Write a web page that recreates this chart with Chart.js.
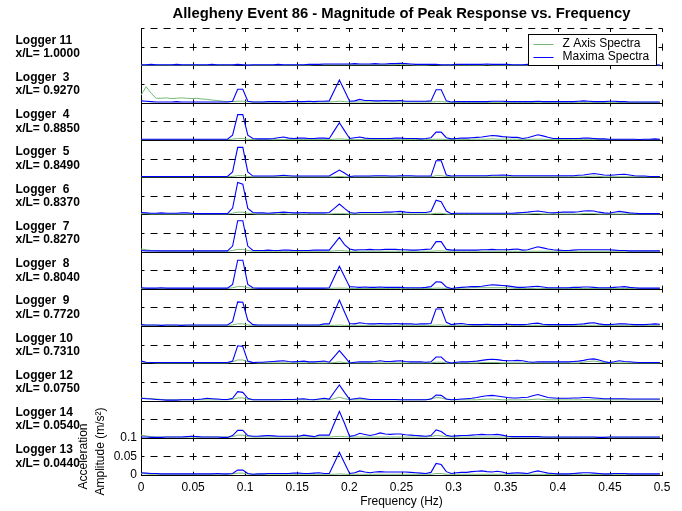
<!DOCTYPE html>
<html>
<head>
<meta charset="utf-8">
<title>Allegheny Event 86 - Magnitude of Peak Response vs. Frequency</title>
<script src="https://cdn.jsdelivr.net/npm/chart.js@4.4.0/dist/chart.umd.min.js"></script>
<style>
  html, body { margin: 0; padding: 0; background: #fff; }
  #wrap { width: 682px; height: 511px; }
</style>
</head>
<body>
<div id="wrap"><canvas id="chart" width="682" height="511"></canvas></div>
<script>
// Frequency bins of the spectra (Hz), resolution 1/204.8 Hz
const FREQ = [
  0, 0.0049, 0.0098, 0.0146, 0.0195, 0.0244, 0.0293, 0.0342, 0.0391, 0.0439,
  0.0488, 0.0537, 0.0586, 0.0635, 0.0684, 0.0732, 0.0781, 0.0830, 0.0879, 0.0928,
  0.0977, 0.1025, 0.1074, 0.1123, 0.1172, 0.1221, 0.1270, 0.1318, 0.1367, 0.1416,
  0.1465, 0.1514, 0.1563, 0.1611, 0.1660, 0.1709, 0.1758, 0.1807, 0.1855, 0.1904,
  0.1953, 0.2002, 0.2051, 0.2100, 0.2148, 0.2197, 0.2246, 0.2295, 0.2344, 0.2393,
  0.2441, 0.2490, 0.2539, 0.2588, 0.2637, 0.2686, 0.2734, 0.2783, 0.2832, 0.2881,
  0.2930, 0.2979, 0.3027, 0.3076, 0.3125, 0.3174, 0.3223, 0.3271, 0.3320, 0.3369,
  0.3418, 0.3467, 0.3516, 0.3564, 0.3613, 0.3662, 0.3711, 0.3760, 0.3809, 0.3857,
  0.3906, 0.3955, 0.4004, 0.4053, 0.4102, 0.4150, 0.4199, 0.4248, 0.4297, 0.4346,
  0.4395, 0.4443, 0.4492, 0.4541, 0.4590, 0.4639, 0.4688, 0.4736, 0.4785, 0.4834,
  0.4883, 0.4932, 0.4980
];

// Logger names and their position along the span, top panel first
const LOGGER_NAMES = ['Logger 11', 'Logger  3', 'Logger  4', 'Logger  5', 'Logger  6', 'Logger  7',
                      'Logger  8', 'Logger  9', 'Logger 10', 'Logger 12', 'Logger 14', 'Logger 13'];
const LOGGER_POS = ['x/L= 1.0000', 'x/L= 0.9270', 'x/L= 0.8850', 'x/L= 0.8490', 'x/L= 0.8370', 'x/L= 0.8270',
                    'x/L= 0.8040', 'x/L= 0.7720', 'x/L= 0.7310', 'x/L= 0.0750', 'x/L= 0.0540', 'x/L= 0.0440'];

// Spectra amplitudes (m/s^2) per logger: Z axis and maxima
const Z_L11 = [
  .001,.001,.001,.001,.001,.001,.001,.001,.001,.001,
  .001,.001,.001,.001,.001,.001,.001,.001,.001,.002,
  .002,.001,.001,.001,.001,.001,.001,.001,.001,.001,
  .001,.001,.001,.001,.002,.002,.002,.002,.002,.002,
  .002,.002,.002,.002,.002,.002,.002,.002,.002,.002,
  .002,.003,.002,.002,.001,.001,.001,.002,.002,.001,
  .001,.001,.001,.001,.001,.001,.001,.001,.002,.001,
  .001,.001,.001,.001,.001,.001,.001,.001,.001,.001,
  .001,.001,.001,.001,.001,.001,.001,.001,.001,.001,
  .001,.001,.001,.001,.001,.001,.001,.001,.001,.001,
  .001,.001,.001
];
const MAX_L11 = [
  .002,.002,.003,.002,.002,.002,.002,.003,.002,.002,
  .002,.002,.002,.002,.003,.002,.002,.002,.002,.003,
  .002,.001,.002,.002,.002,.002,.002,.003,.002,.002,
  .002,.002,.002,.003,.003,.003,.004,.004,.004,.004,
  .004,.004,.005,.004,.004,.004,.005,.004,.004,.005,
  .005,.006,.005,.004,.003,.003,.003,.003,.003,.002,
  .002,.002,.003,.003,.003,.003,.003,.003,.004,.003,
  .003,.003,.003,.002,.002,.002,.003,.003,.002,.002,
  .002,.002,.002,.002,.002,.002,.002,.002,.002,.002,
  .002,.002,.002,.002,.002,.002,.002,.002,.002,.002,
  .002,.001,.001
];
const Z_L3 = [
  .020,.043,.025,.012,.012,.013,.011,.012,.013,.012,
  .011,.012,.010,.009,.007,.006,.004,.003,.003,.004,
  .004,.003,.002,.002,.002,.002,.002,.002,.002,.002,
  .002,.002,.002,.002,.002,.002,.002,.002,.003,.004,
  .003,.002,.002,.002,.002,.002,.002,.002,.002,.002,
  .002,.002,.002,.002,.002,.002,.002,.002,.003,.003,
  .002,.001,.001,.001,.001,.001,.001,.001,.001,.001,
  .001,.001,.001,.001,.001,.001,.001,.001,.001,.001,
  .001,.001,.001,.001,.001,.001,.001,.001,.001,.001,
  .001,.001,.001,.001,.001,.001,.001,.001,.001,.001,
  .001,.001,.001
];
const MAX_L3 = [
  .005,.004,.003,.002,.002,.002,.002,.003,.002,.002,
  .002,.002,.002,.002,.002,.002,.002,.002,.004,.036,
  .036,.004,.002,.002,.002,.003,.003,.003,.002,.003,
  .004,.003,.003,.004,.003,.004,.004,.005,.033,.061,
  .033,.004,.005,.009,.006,.006,.005,.005,.006,.005,
  .005,.006,.004,.004,.004,.004,.004,.005,.035,.035,
  .005,.002,.003,.003,.003,.003,.003,.003,.003,.004,
  .004,.004,.003,.003,.003,.003,.003,.003,.004,.003,
  .003,.003,.003,.003,.003,.003,.004,.005,.004,.003,
  .003,.003,.004,.004,.003,.003,.002,.002,.002,.002,
  .002,.002,.002
];
const Z_L4 = [
  .001,.001,.001,.001,.001,.001,.001,.001,.001,.001,
  .001,.001,.001,.001,.001,.001,.001,.001,.002,.004,
  .004,.002,.001,.001,.001,.001,.001,.001,.001,.001,
  .001,.001,.001,.001,.001,.001,.001,.001,.002,.003,
  .002,.001,.001,.001,.001,.001,.001,.001,.001,.001,
  .001,.001,.001,.001,.001,.001,.001,.001,.002,.002,
  .001,.001,.001,.001,.001,.002,.002,.002,.002,.003,
  .002,.002,.002,.002,.002,.001,.001,.002,.002,.002,
  .001,.001,.001,.001,.001,.001,.001,.001,.001,.001,
  .001,.001,.001,.001,.001,.001,.001,.001,.001,.001,
  .001,.001,.001
];
const MAX_L4 = [
  .002,.002,.002,.002,.002,.002,.002,.002,.002,.002,
  .002,.002,.002,.002,.002,.002,.002,.002,.013,.068,
  .068,.013,.004,.003,.003,.003,.004,.006,.008,.005,
  .004,.005,.005,.004,.004,.005,.005,.004,.025,.046,
  .025,.004,.006,.008,.005,.004,.004,.004,.004,.004,
  .005,.005,.004,.004,.004,.003,.004,.006,.021,.021,
  .006,.003,.004,.005,.005,.006,.007,.008,.010,.012,
  .011,.009,.008,.007,.007,.004,.006,.010,.014,.011,
  .007,.004,.004,.004,.004,.004,.004,.005,.005,.004,
  .003,.003,.002,.002,.002,.002,.002,.002,.001,.002,
  .002,.003,.002
];
const Z_L5 = [
  .001,.001,.001,.001,.001,.001,.001,.001,.001,.001,
  .001,.001,.001,.001,.001,.001,.001,.001,.002,.004,
  .004,.002,.001,.001,.001,.001,.001,.001,.001,.001,
  .001,.001,.001,.001,.001,.001,.001,.001,.001,.002,
  .001,.001,.001,.001,.001,.001,.001,.001,.001,.001,
  .001,.001,.001,.001,.001,.001,.001,.001,.004,.004,
  .002,.001,.001,.001,.001,.001,.001,.001,.001,.001,
  .001,.001,.001,.001,.001,.001,.001,.001,.001,.001,
  .001,.001,.001,.001,.001,.001,.001,.001,.002,.003,
  .002,.001,.001,.001,.001,.001,.001,.001,.001,.001,
  .001,.001,.001
];
const MAX_L5 = [
  .002,.002,.002,.002,.002,.002,.002,.002,.002,.002,
  .002,.002,.002,.002,.002,.002,.002,.002,.014,.080,
  .080,.014,.003,.003,.003,.003,.003,.004,.005,.004,
  .003,.003,.003,.003,.003,.003,.003,.003,.011,.019,
  .011,.002,.003,.003,.003,.003,.004,.004,.004,.003,
  .003,.004,.004,.004,.003,.003,.003,.003,.044,.044,
  .006,.003,.004,.004,.004,.004,.004,.004,.004,.005,
  .005,.006,.005,.004,.004,.004,.004,.004,.004,.004,
  .004,.004,.004,.004,.004,.004,.005,.006,.008,.010,
  .008,.006,.005,.006,.007,.008,.006,.004,.003,.003,
  .002,.002,.002
];
const Z_L6 = [
  .002,.002,.001,.001,.001,.001,.001,.001,.001,.001,
  .001,.001,.001,.001,.001,.001,.001,.001,.003,.006,
  .006,.003,.002,.001,.001,.001,.001,.001,.002,.001,
  .001,.001,.001,.001,.001,.001,.001,.001,.002,.002,
  .002,.001,.001,.001,.001,.001,.001,.001,.001,.001,
  .001,.002,.001,.001,.001,.001,.001,.001,.003,.003,
  .001,.001,.001,.001,.001,.001,.001,.001,.001,.001,
  .001,.001,.001,.001,.001,.001,.001,.002,.002,.001,
  .001,.001,.001,.001,.001,.001,.001,.002,.002,.002,
  .001,.001,.001,.001,.001,.001,.001,.001,.001,.001,
  .001,.001,.001
];
const MAX_L6 = [
  .005,.004,.003,.003,.004,.003,.003,.003,.004,.004,
  .003,.002,.002,.002,.002,.002,.002,.002,.017,.086,
  .081,.016,.005,.004,.004,.003,.004,.005,.006,.005,
  .004,.004,.005,.004,.004,.004,.004,.005,.016,.028,
  .016,.005,.003,.005,.005,.005,.005,.005,.006,.006,
  .007,.008,.006,.005,.005,.005,.005,.008,.038,.034,
  .009,.002,.003,.003,.003,.003,.003,.003,.003,.003,
  .003,.003,.003,.003,.004,.005,.006,.008,.009,.007,
  .005,.004,.005,.006,.006,.006,.007,.009,.010,.009,
  .006,.004,.003,.006,.008,.006,.004,.003,.002,.002,
  .002,.002,.002
];
const Z_L7 = [
  .007,.005,.003,.002,.001,.001,.001,.001,.001,.001,
  .001,.001,.001,.001,.001,.001,.001,.001,.003,.006,
  .006,.003,.001,.001,.001,.001,.001,.001,.001,.001,
  .001,.001,.001,.001,.001,.001,.001,.001,.002,.003,
  .002,.001,.001,.001,.001,.001,.001,.001,.001,.001,
  .001,.001,.001,.001,.001,.001,.001,.001,.002,.002,
  .001,.001,.001,.001,.001,.001,.001,.001,.001,.001,
  .001,.001,.001,.001,.001,.001,.001,.001,.001,.001,
  .001,.001,.001,.001,.001,.001,.001,.001,.001,.001,
  .001,.001,.001,.001,.001,.001,.001,.001,.001,.001,
  .001,.001,.001
];
const MAX_L7 = [
  .003,.002,.002,.002,.002,.002,.002,.002,.002,.002,
  .002,.002,.002,.002,.002,.002,.002,.002,.015,.083,
  .083,.015,.003,.003,.003,.004,.003,.003,.004,.004,
  .003,.003,.003,.003,.004,.004,.004,.004,.021,.038,
  .019,.007,.004,.005,.005,.006,.005,.005,.006,.006,
  .006,.005,.005,.004,.004,.005,.006,.007,.027,.027,
  .006,.004,.004,.004,.004,.004,.004,.005,.005,.006,
  .005,.005,.005,.006,.007,.004,.005,.009,.013,.010,
  .007,.005,.004,.003,.003,.004,.005,.005,.005,.005,
  .005,.005,.005,.004,.003,.003,.002,.002,.002,.002,
  .002,.002,.002
];
const Z_L8 = [
  .001,.001,.001,.001,.001,.001,.001,.001,.001,.001,
  .001,.001,.001,.001,.001,.001,.001,.001,.003,.006,
  .006,.003,.001,.001,.001,.001,.001,.001,.001,.001,
  .001,.001,.001,.001,.001,.001,.001,.001,.002,.002,
  .002,.001,.001,.001,.001,.001,.001,.001,.001,.001,
  .001,.001,.001,.001,.001,.001,.001,.001,.002,.002,
  .001,.001,.001,.002,.002,.003,.003,.003,.003,.003,
  .003,.003,.003,.002,.001,.001,.001,.001,.002,.001,
  .001,.001,.001,.001,.001,.001,.001,.001,.001,.001,
  .001,.001,.001,.001,.001,.001,.001,.001,.001,.001,
  .001,.001,.001
];
const MAX_L8 = [
  .003,.002,.002,.002,.003,.002,.002,.002,.002,.002,
  .002,.002,.002,.002,.002,.002,.002,.002,.012,.077,
  .077,.012,.003,.002,.002,.002,.002,.002,.002,.002,
  .002,.002,.002,.002,.002,.002,.002,.003,.032,.061,
  .033,.006,.005,.004,.005,.004,.004,.005,.004,.004,
  .004,.004,.003,.003,.003,.003,.004,.006,.019,.018,
  .005,.001,.003,.004,.005,.006,.006,.007,.009,.011,
  .010,.009,.008,.006,.004,.004,.005,.006,.007,.005,
  .003,.003,.003,.003,.003,.004,.004,.005,.005,.004,
  .003,.003,.003,.004,.005,.006,.004,.003,.002,.002,
  .002,.002,.002
];
const Z_L9 = [
  .002,.002,.002,.002,.002,.002,.002,.002,.002,.002,
  .002,.002,.002,.002,.002,.002,.002,.002,.003,.006,
  .006,.003,.002,.002,.002,.002,.002,.002,.002,.002,
  .002,.002,.002,.002,.002,.002,.002,.002,.002,.003,
  .002,.002,.002,.002,.002,.002,.002,.002,.002,.002,
  .002,.002,.002,.002,.002,.002,.002,.002,.003,.003,
  .002,.002,.002,.002,.002,.002,.002,.002,.002,.002,
  .002,.002,.002,.002,.002,.002,.002,.002,.002,.002,
  .002,.002,.002,.002,.002,.002,.002,.002,.002,.002,
  .002,.002,.002,.002,.002,.002,.002,.002,.002,.002,
  .002,.002,.002
];
const MAX_L9 = [
  .004,.003,.003,.003,.002,.003,.003,.003,.002,.003,
  .003,.003,.003,.003,.003,.003,.003,.003,.012,.065,
  .064,.015,.004,.003,.003,.003,.003,.003,.003,.003,
  .003,.003,.003,.003,.003,.003,.006,.006,.038,.070,
  .038,.007,.006,.009,.007,.006,.006,.007,.006,.006,
  .007,.006,.006,.006,.005,.006,.006,.007,.046,.046,
  .010,.004,.006,.007,.005,.004,.004,.004,.005,.004,
  .004,.004,.005,.004,.004,.004,.005,.007,.008,.005,
  .004,.004,.004,.004,.004,.004,.005,.006,.008,.009,
  .006,.004,.004,.005,.006,.006,.005,.004,.004,.004,
  .005,.006,.005
];
const Z_L10 = [
  .004,.002,.002,.001,.001,.001,.001,.001,.001,.001,
  .001,.001,.001,.001,.001,.001,.001,.001,.004,.009,
  .009,.004,.002,.001,.001,.001,.001,.001,.001,.001,
  .001,.001,.001,.001,.001,.001,.001,.001,.002,.004,
  .002,.001,.001,.001,.001,.001,.001,.001,.001,.001,
  .001,.001,.001,.001,.001,.001,.001,.001,.003,.003,
  .001,.001,.001,.001,.001,.001,.001,.002,.002,.002,
  .002,.001,.001,.001,.001,.001,.001,.001,.001,.001,
  .001,.001,.001,.001,.001,.001,.001,.003,.005,.006,
  .004,.002,.001,.001,.001,.001,.001,.001,.001,.001,
  .001,.001,.001
];
const MAX_L10 = [
  .006,.003,.002,.002,.002,.002,.002,.002,.002,.002,
  .002,.002,.002,.002,.002,.002,.002,.002,.006,.047,
  .045,.006,.002,.003,.003,.004,.005,.006,.007,.005,
  .004,.005,.006,.004,.004,.005,.006,.003,.018,.034,
  .018,.001,.003,.004,.004,.004,.005,.007,.005,.005,
  .006,.007,.005,.004,.004,.004,.003,.004,.017,.017,
  .004,.001,.003,.004,.004,.005,.006,.008,.010,.011,
  .010,.008,.007,.007,.008,.007,.004,.003,.004,.004,
  .004,.004,.004,.004,.004,.005,.006,.008,.011,.012,
  .009,.005,.002,.004,.007,.005,.004,.003,.002,.002,
  .002,.002,.002
];
const Z_L12 = [
  .007,.006,.005,.004,.003,.002,.002,.002,.002,.002,
  .002,.002,.002,.002,.002,.002,.002,.002,.003,.007,
  .007,.003,.002,.002,.002,.002,.002,.002,.002,.002,
  .002,.002,.002,.002,.002,.002,.002,.002,.005,.009,
  .005,.002,.002,.002,.002,.002,.002,.002,.002,.002,
  .002,.002,.002,.002,.002,.002,.002,.004,.008,.007,
  .003,.002,.002,.002,.002,.002,.002,.003,.004,.004,
  .003,.002,.002,.002,.002,.002,.002,.003,.004,.003,
  .002,.002,.002,.002,.002,.002,.002,.002,.002,.002,
  .002,.002,.002,.002,.002,.002,.002,.002,.002,.002,
  .002,.002,.002
];
const MAX_L12 = [
  .006,.005,.004,.003,.002,.001,.001,.001,.002,.002,
  .002,.003,.004,.006,.005,.004,.003,.003,.006,.024,
  .022,.006,.002,.002,.002,.002,.002,.002,.003,.003,
  .003,.004,.005,.003,.002,.004,.006,.004,.023,.042,
  .022,.003,.005,.007,.005,.003,.003,.003,.003,.003,
  .003,.002,.002,.002,.002,.002,.002,.004,.015,.014,
  .004,.002,.003,.004,.005,.006,.008,.011,.013,.014,
  .012,.010,.008,.007,.007,.008,.009,.013,.016,.012,
  .008,.007,.006,.006,.006,.007,.007,.008,.008,.007,
  .006,.005,.005,.005,.005,.005,.004,.004,.004,.004,
  .004,.004,.004
];
const Z_L14 = [
  .007,.005,.003,.002,.002,.002,.002,.002,.002,.002,
  .002,.002,.002,.002,.002,.002,.002,.002,.003,.007,
  .007,.003,.002,.002,.002,.002,.002,.002,.002,.002,
  .002,.002,.002,.002,.002,.002,.002,.002,.003,.004,
  .003,.002,.002,.002,.002,.002,.002,.002,.002,.002,
  .002,.002,.002,.002,.002,.002,.002,.003,.006,.005,
  .003,.002,.002,.002,.002,.002,.002,.002,.002,.002,
  .002,.002,.002,.002,.002,.002,.002,.002,.002,.002,
  .001,.001,.001,.001,.001,.001,.001,.001,.001,.001,
  .001,.001,.001,.001,.001,.001,.001,.001,.001,.001,
  .001,.001,.001
];
const MAX_L14 = [
  .002,.002,.001,.001,.001,.002,.002,.002,.002,.003,
  .004,.003,.002,.002,.002,.002,.001,.001,.006,.020,
  .020,.006,.004,.004,.005,.006,.005,.004,.004,.004,
  .004,.004,.007,.005,.003,.007,.007,.007,.039,.071,
  .039,.004,.006,.012,.009,.006,.009,.013,.010,.009,
  .010,.010,.008,.007,.006,.005,.004,.006,.021,.017,
  .007,.004,.005,.006,.006,.007,.008,.009,.008,.008,
  .009,.007,.004,.003,.003,.003,.003,.003,.003,.002,
  .002,.002,.002,.002,.002,.002,.002,.002,.002,.002,
  .001,.001,.002,.002,.002,.002,.002,.002,.002,.002,
  .002,.002,.002
];
const Z_L13 = [
  .004,.003,.002,.002,.002,.002,.002,.002,.002,.002,
  .002,.002,.002,.002,.002,.002,.002,.002,.003,.005,
  .005,.003,.002,.002,.002,.002,.002,.002,.002,.002,
  .002,.002,.002,.002,.002,.002,.002,.002,.002,.003,
  .002,.002,.002,.002,.002,.002,.002,.002,.002,.002,
  .002,.002,.002,.002,.002,.002,.002,.002,.004,.004,
  .002,.002,.002,.002,.002,.002,.002,.002,.002,.002,
  .002,.002,.002,.002,.002,.002,.002,.002,.002,.002,
  .001,.001,.001,.001,.001,.001,.001,.001,.001,.001,
  .001,.001,.001,.001,.001,.001,.001,.001,.001,.001,
  .001,.001,.001
];
const MAX_L13 = [
  .006,.005,.004,.004,.003,.003,.003,.003,.003,.003,
  .003,.003,.003,.003,.003,.004,.003,.003,.004,.013,
  .013,.004,.002,.003,.003,.004,.004,.004,.004,.004,
  .005,.005,.004,.004,.005,.006,.004,.004,.032,.061,
  .032,.004,.006,.011,.008,.006,.008,.009,.008,.008,
  .008,.008,.008,.007,.006,.005,.004,.007,.031,.028,
  .009,.004,.006,.007,.007,.009,.010,.011,.009,.008,
  .010,.008,.004,.005,.006,.005,.004,.008,.011,.008,
  .005,.004,.003,.003,.003,.004,.005,.006,.006,.005,
  .004,.003,.003,.004,.004,.004,.003,.003,.003,.003,
  .003,.003,.003
];

// Panels from top to bottom
const Z_SERIES = [Z_L11, Z_L3, Z_L4, Z_L5, Z_L6, Z_L7, Z_L8, Z_L9, Z_L10, Z_L12, Z_L14, Z_L13];
const MAX_SERIES = [MAX_L11, MAX_L3, MAX_L4, MAX_L5, MAX_L6, MAX_L7, MAX_L8, MAX_L9, MAX_L10, MAX_L12, MAX_L14, MAX_L13];

// Axis ticks
const X_TICKS = [0, 0.05, 0.1, 0.15, 0.2, 0.25, 0.3, 0.35, 0.4, 0.45, 0.5];
const X_TICK_LABELS = ['0', '0.05', '0.1', '0.15', '0.2', '0.25', '0.3', '0.35', '0.4', '0.45', '0.5'];
const Y_TICKS = [0, 0.05, 0.1];
const Y_TICK_LABELS = ['0', '0.05', '0.1'];

const PANEL_STEP = 0.1;      // vertical offset between stacked loggers
const HALF_STEP = 0.05;
const Y_MAX = 1.2;
const BLUE = '#0000ff';
const GREEN = '#74b874';
const FONT = "'Liberation Sans', Arial, Helvetica, sans-serif";

Chart.defaults.font.family = FONT;
Chart.defaults.font.size = 12;
Chart.defaults.color = '#000';

const nPanels = MAX_SERIES.length;
const offsetOf = i => (nPanels - 1 - i) * PANEL_STEP;
const toPoints = (vals, off) => FREQ.map((f, k) => ({ x: f, y: vals[k] + off }));

// Maxima traces first so that they are painted above the Z traces
const datasets = [];
MAX_SERIES.forEach((vals, i) => datasets.push({
  label: 'Maxima Spectra', data: toPoints(vals, offsetOf(i)),
  borderColor: BLUE, borderWidth: 1.1
}));
Z_SERIES.forEach((vals, i) => datasets.push({
  label: 'Z Axis Spectra', data: toPoints(vals, offsetOf(i)),
  borderColor: GREEN, borderWidth: 1
}));

// Dashed grid with a solid zero line for every stacked panel
const panelGrid = {
  id: 'panelGrid',
  beforeDatasetsDraw(chart) {
    const { ctx, chartArea: a, scales: { x, y } } = chart;
    const px = v => Math.round(x.getPixelForValue(v)) + 0.5;
    const py = v => Math.round(y.getPixelForValue(v)) + 0.5;
    const rowGap = Math.abs(y.getPixelForValue(0) - y.getPixelForValue(HALF_STEP));
    const colGap = Math.abs(x.getPixelForValue(X_TICKS[1]) - x.getPixelForValue(X_TICKS[0]));
    const dash = 7;
    ctx.save();
    ctx.strokeStyle = '#000';
    ctx.lineWidth = 1;

    // vertical grid, dashes centred on each horizontal line
    ctx.setLineDash([dash, rowGap - dash]);
    ctx.lineDashOffset = dash / 2;
    X_TICKS.forEach(v => {
      if (v === 0) return;
      const X = px(v);
      ctx.beginPath(); ctx.moveTo(X, py(Y_MAX)); ctx.lineTo(X, py(0)); ctx.stroke();
    });

    // horizontal dashed lines at the half-panel levels and the top edge
    ctx.setLineDash([dash, colGap / 4 - dash]);
    ctx.lineDashOffset = dash / 2;
    const dashedRows = [];
    for (let i = 0; i < nPanels; i++) dashedRows.push(i * PANEL_STEP + HALF_STEP);
    dashedRows.push(Y_MAX);
    dashedRows.forEach(v => {
      const Y = py(v);
      ctx.beginPath(); ctx.moveTo(a.left, Y); ctx.lineTo(px(0.5), Y); ctx.stroke();
    });

    // solid baselines of the stacked panels
    ctx.setLineDash([]);
    for (let i = 1; i < nPanels; i++) {
      const Y = py(i * PANEL_STEP);
      ctx.beginPath(); ctx.moveTo(a.left, Y); ctx.lineTo(px(0.5), Y); ctx.stroke();
    }
    ctx.restore();
  }
};

// Logger captions, y-axis caption and the boxed legend
const annotations = {
  id: 'annotations',
  afterDraw(chart) {
    const { ctx, chartArea: a, scales: { y } } = chart;
    ctx.save();
    ctx.fillStyle = '#000';

    // logger names beside each panel
    ctx.font = 'bold 12px ' + FONT;
    ctx.textAlign = 'left';
    ctx.textBaseline = 'middle';
    LOGGER_NAMES.forEach((name, i) => {
      const mid = y.getPixelForValue(offsetOf(i) + HALF_STEP);
      ctx.fillText(name, 15.5, mid - 6.5);
      ctx.fillText(LOGGER_POS[i], 15.5, mid + 7);
    });

    // y-axis caption, two rotated lines
    ctx.font = '12px ' + FONT;
    ctx.textAlign = 'center';
    [['Acceleration', a.left - 57, a.bottom - 18.5],
     ['Amplitude (m/s\u00B2)', a.left - 40, a.bottom - 23.5]].forEach(([t, cx, cy]) => {
      ctx.save();
      ctx.translate(cx, cy);
      ctx.rotate(-Math.PI / 2);
      ctx.fillText(t, 0, 0);
      ctx.restore();
    });

    // legend box
    const L = Math.round(a.right) - 134 + 0.5, R = Math.round(a.right) - 6 + 0.5;
    const T = Math.round(a.top) + 6 + 0.5, B = Math.round(a.top) + 37 + 0.5;
    ctx.fillStyle = '#fff';
    ctx.fillRect(L, T, R - L, B - T);
    ctx.strokeStyle = '#000';
    ctx.lineWidth = 1;
    ctx.strokeRect(L, T, R - L, B - T);
    const rows = [['Z Axis Spectra', GREEN, T + 9], ['Maxima Spectra', BLUE, T + 22.5]];
    rows.forEach(([t, c, yy]) => {
      ctx.strokeStyle = c;
      ctx.beginPath(); ctx.moveTo(L + 5, Math.round(yy) + 0.5); ctx.lineTo(L + 25, Math.round(yy) + 0.5); ctx.stroke();
      ctx.fillStyle = '#000';
      ctx.textAlign = 'left';
      ctx.textBaseline = 'middle';
      ctx.fillText(t, L + 34, yy);
    });
    ctx.restore();
  }
};

new Chart(document.getElementById('chart'), {
  type: 'line',
  data: { datasets },
  plugins: [panelGrid, annotations],
  options: {
    responsive: false,
    animation: false,
    devicePixelRatio: 1,
    events: [],
    layout: { padding: { left: 0, right: 20, top: 0, bottom: 0 } },
    elements: { point: { radius: 0 }, line: { tension: 0, fill: false } },
    scales: {
      x: {
        type: 'linear', min: 0, max: 0.5,
        afterBuildTicks: s => { s.ticks = X_TICKS.map(v => ({ value: v })); },
        afterFit: s => { s.height = 36; },
        grid: { display: false, drawTicks: false },
        border: { display: true, color: '#000', width: 1 },
        ticks: { padding: 5, maxRotation: 0, autoSkip: false, color: '#000',
                 font: { size: 12 }, callback: (v, i) => X_TICK_LABELS[i] },
        title: { display: true, text: 'Frequency (Hz)', color: '#000',
                 font: { size: 12 }, padding: { top: 0, bottom: 2 } }
      },
      y: {
        type: 'linear', min: 0, max: Y_MAX,
        afterBuildTicks: s => { s.ticks = Y_TICKS.map(v => ({ value: v })); },
        afterFit: s => { s.width = 141; },
        grid: { display: false, drawTicks: false },
        border: { display: true, color: '#000', width: 1 },
        ticks: { padding: 4, color: '#000', font: { size: 12 },
                 callback: (v, i) => Y_TICK_LABELS[i] }
      }
    },
    plugins: {
      legend: { display: false },
      tooltip: { enabled: false },
      title: {
        display: true, fullSize: false, color: '#000',
        text: 'Allegheny Event 86 - Magnitude of Peak Response vs. Frequency',
        font: { size: 14.8, weight: 'bold' },
        padding: { top: 5, bottom: 5.5 }
      }
    }
  }
});
</script>
</body>
</html>
